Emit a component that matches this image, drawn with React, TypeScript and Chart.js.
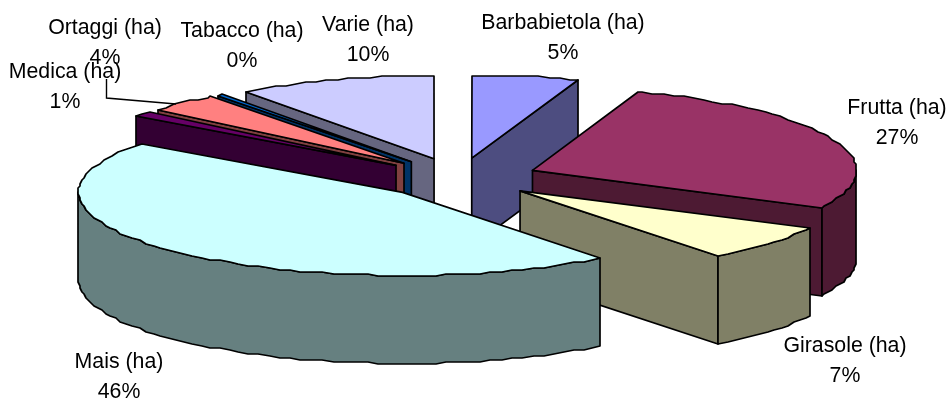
import React, { useEffect, useRef } from "react";
import { Chart, registerables } from "chart.js";

Chart.register(...registerables);

// Land use by crop, in percent of the total area.
const categories = [
  "Barbabietola (ha)",
  "Frutta (ha)",
  "Girasole (ha)",
  "Mais (ha)",
  "Medica (ha)",
  "Ortaggi (ha)",
  "Tabacco (ha)",
  "Varie (ha)",
];
const shares = [5.3, 27.1, 7.2, 45.5, 1.2, 3.5, 0.3, 9.9];
const topColors = ["#9999FF", "#993366", "#FFFFCC", "#CCFFFF", "#660066", "#FF8080", "#0066CC", "#CCCCFF"];
const wallColors = ["#4D4D80", "#4D1A33", "#808066", "#668080", "#330033", "#804040", "#003366", "#666680"];

// Centre of each two-line data label.
const labelAnchors: [number, number][] = [
  [563, 23],
  [897, 108],
  [845, 346],
  [119, 362],
  [65, 72],
  [105, 28],
  [242, 31],
  [368, 25],
];

// Projection of the flat pie onto the tilted disc.
const DISC = { cx: 458.5, cy: 178, rx: 324, ry: 83, explodeX: 328, depth: 88 };
const SLICE_OFFSET = 131;
const SNAP = 2;
const RIM_STEP = 0.035;

type Pt = [number, number];

const pie3d = {
  id: "pie3d",
  beforeDatasetDraw(chart: any) {
    const { ctx } = chart;
    const arcs = chart.getDatasetMeta(0).data;

    const order = arcs
      .map((arc: any, i: number) => ({ arc, i, mid: (arc.startAngle + arc.endAngle) / 2 }))
      .sort((a: any, b: any) => Math.sin(a.mid) - Math.sin(b.mid));

    ctx.save();
    ctx.strokeStyle = "#000";
    ctx.lineWidth = 1.7;
    ctx.lineJoin = "round";

    const poly = (pts: Pt[], fill: string) => {
      ctx.beginPath();
      pts.forEach(([x, y], k) => (k ? ctx.lineTo(x, y) : ctx.moveTo(x, y)));
      ctx.closePath();
      ctx.fillStyle = fill;
      ctx.fill();
      ctx.stroke();
    };

    for (const { arc, i, mid } of order) {
      const { startAngle, endAngle, outerRadius } = arc;
      const shift = arc.options.offset / 4;
      const apex: Pt = [
        DISC.cx + (Math.cos(mid) * shift * DISC.explodeX) / outerRadius,
        DISC.cy + (Math.sin(mid) * shift * DISC.ry) / outerRadius,
      ];
      const rimPoint = (a: number): Pt => {
        const sx = apex[0] + Math.cos(a) * DISC.rx;
        const sy = apex[1] + Math.sin(a) * DISC.ry;
        return [Math.round(sx / SNAP) * SNAP, Math.round(sy / SNAP) * SNAP];
      };
      // Samples sit on a shared angular grid, so the rim wall and the top face trace one edge.
      const rim = (from: number, to: number): Pt[] => {
        const out: Pt[] = [rimPoint(from)];
        for (let k = Math.floor(from / RIM_STEP) + 1; k * RIM_STEP < to; k++) out.push(rimPoint(k * RIM_STEP));
        out.push(rimPoint(to));
        return out;
      };
      const down = ([a, b]: Pt): Pt => [a, b + DISC.depth];
      const wall = wallColors[i];

      if (Math.cos(startAngle) < 0) {
        const tip = rimPoint(startAngle);
        poly([apex, tip, down(tip), down(apex)], wall);
      }
      if (Math.cos(endAngle) > 1e-6) {
        const tip = rimPoint(endAngle);
        poly([apex, tip, down(tip), down(apex)], wall);
      }
      // Outer rim: only the part of the arc that faces the viewer.
      const from = Math.max(startAngle, 0);
      const to = Math.min(endAngle, Math.PI);
      if (to > from) {
        const edge = rim(from, to);
        poly([...edge, ...edge.slice().reverse().map(down)], wall);
      }
      poly([apex, ...rim(startAngle, endAngle)], arc.options.backgroundColor);
    }
    ctx.restore();
    return false;
  },
  afterDraw(chart: any) {
    const { ctx } = chart;
    const total = shares.reduce((a, b) => a + b, 0);
    ctx.save();

    // Leader line for the Medica label.
    ctx.strokeStyle = "#000";
    ctx.lineWidth = 1.4;
    ctx.beginPath();
    ctx.moveTo(106.5, 79);
    ctx.lineTo(106.5, 98);
    ctx.lineTo(176, 104);
    ctx.stroke();

    ctx.fillStyle = "#000";
    ctx.font = '21.3px "Liberation Sans", Arial, sans-serif';
    ctx.textAlign = "center";
    ctx.textBaseline = "middle";
    categories.forEach((name, i) => {
      const [lx, ly] = labelAnchors[i];
      const pct = Math.round(Math.round((shares[i] / total) * 1000) / 10);
      ctx.fillText(name, lx, ly);
      ctx.fillText(`${pct}%`, lx, ly + 30);
    });
    ctx.restore();
  },
};

export default function App() {
  const ref = useRef<HTMLCanvasElement | null>(null);

  useEffect(() => {
    if (!ref.current) return;
    const chart = new Chart(ref.current, {
      type: "pie",
      data: {
        labels: categories,
        datasets: [
          {
            data: shares,
            backgroundColor: topColors,
            borderWidth: 0,
            offset: SLICE_OFFSET,
          },
        ],
      },
      options: {
        animation: false,
        responsive: false,
        plugins: { legend: { display: false }, tooltip: { enabled: false } },
      },
      plugins: [pie3d],
    } as any);
    return () => chart.destroy();
  }, []);

  return (
    <div style={{ position: "fixed", left: 0, top: 0, width: 951, height: 400, background: "#fff" }}>
      <canvas ref={ref} width={951} height={400} style={{ display: "block" }} />
    </div>
  );
}
